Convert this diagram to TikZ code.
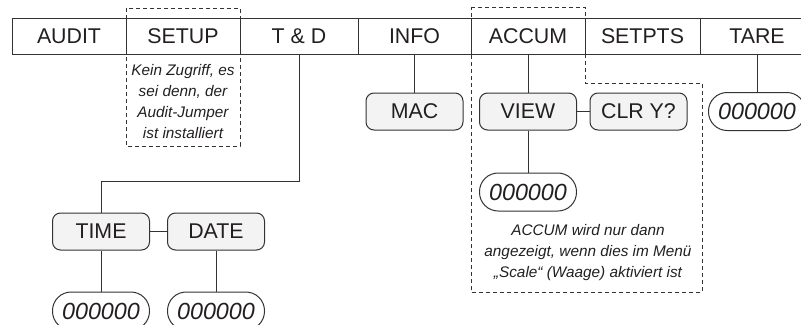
\documentclass[tikz,border=0pt]{standalone}
\usepackage{fontspec}
\setmainfont{Liberation Sans}
\definecolor{mnLine}{RGB}{51, 51, 51}
\definecolor{mnText}{RGB}{35, 31, 32}
\definecolor{mnFill}{RGB}{243, 243, 243}
\usepackage{tikz}
\tikzset{
  menucell/.style={rectangle, draw=mnLine, line width=0.75pt, fill=white, minimum width=#1, minimum height=27pt, inner sep=0pt, font=\fontsize{16}{18}\selectfont, text=mnText},
  menucell/.default=85.5pt,
  menubox/.style={rectangle, rounded corners=6pt, draw=mnLine, line width=0.75pt, fill=mnFill, minimum width=72.75pt, minimum height=27.75pt, inner sep=0pt, font=\fontsize{16}{18}\selectfont, text=mnText},
  valbox/.style={rectangle, rounded corners=14pt, draw=mnLine, line width=0.75pt, fill=white, minimum width=72.75pt, minimum height=28.5pt, inner sep=0pt, font=\fontsize{17.5}{18}\selectfont\itshape, text=mnText},
  note/.style={align=center, inner sep=0pt, font=\fontsize{11.5}{15.6}\selectfont\itshape, text=mnText},
  hidebox/.style={draw=mnLine, line width=0.75pt, dash pattern=on 3pt off 2.25pt},
  link/.style={draw=mnLine, line width=0.75pt},
}

\begin{document}
\begin{tikzpicture}[x=0.75pt, y=-0.75pt]
  \clip (0, 0) rectangle (801, 325);

  % Hidden areas
  \draw[hidebox] (126, 8) rectangle (240, 146);
  \draw[hidebox] (471, 7) -- (585, 7) -- (585, 83) -- (702, 83) -- (702, 292) -- (471, 292) -- cycle;

  % Top menu
  \node[menucell] (audit) at (69, 36) {AUDIT};
  \node[menucell] (setup) at (183, 36) {SETUP};
  \node[menucell=88.5pt] (td) at (299, 36) {T \& D};
  \node[menucell=84.75pt] (info) at (414.5, 36) {INFO};
  \node[menucell] (accum) at (528, 36) {ACCUM};
  \node[menucell=86.25pt] (setpts) at (642.5, 36) {SETPTS};
  \node[menucell] (tare) at (757, 36) {TARE};

  % Second level
  \node[menubox] (mac) at (414.5, 111.5) {MAC};
  \node[menubox] (view) at (528, 111.5) {VIEW};
  \node[menubox] (clr) at (638.5, 111.5) {CLR Y?};
  \node[valbox] (tareval) at (757, 111.5) {000000};
  \node[valbox] (viewval) at (528, 192) {000000};

  % Time and date
  \node[menubox] (time) at (101, 231.5) {TIME};
  \node[menubox] (date) at (216, 231.5) {DATE};
  \node[valbox] (timeval) at (101, 311) {000000};
  \node[valbox] (dateval) at (216, 311) {000000};
  \coordinate (tdbend) at (299, 181);

  % Notes
  \node[note] (setupnote) at (183, 101.5) {Kein Zugriff, es\\sei denn, der\\Audit-Jumper\\ist installiert};
  \node[note] (accumnote) at (588, 252.5) {ACCUM wird nur dann\\angezeigt, wenn dies im Menü\\„Scale“ (Waage) aktiviert ist};

  % Links
  \draw[link] (td.south) -- (tdbend) -| (time.north);
  \draw[link] (info.south) -- (mac.north);
  \draw[link] (accum.south) -- (view.north);
  \draw[link] (tare.south) -- (tareval.north);
  \draw[link] (view.east) -- (clr.west);
  \draw[link] (view.south) -- (viewval.north);
  \draw[link] (time.east) -- (date.west);
  \draw[link] (time.south) -- (timeval.north);
  \draw[link] (date.south) -- (dateval.north);
\end{tikzpicture}
\end{document}
